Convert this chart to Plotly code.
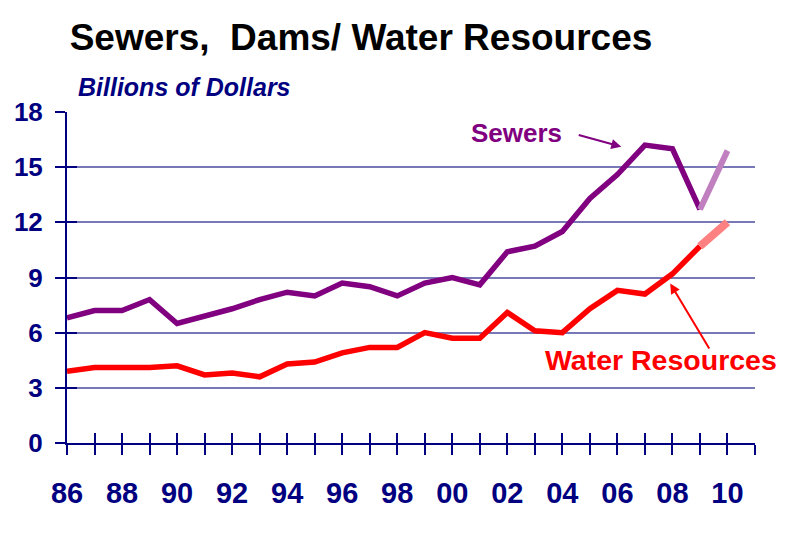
import plotly.graph_objects as go

# dados (bilhões de dólares)
years = list(range(1986, 2011))
sewers = [6.8, 7.2, 7.2, 7.8, 6.5, 6.9, 7.3, 7.8, 8.2, 8.0, 8.7, 8.5, 8.0,
          8.7, 9.0, 8.6, 10.4, 10.7, 11.5, 13.3, 14.6, 16.2, 16.0, 12.7, 15.9]
water = [3.9, 4.1, 4.1, 4.1, 4.2, 3.7, 3.8, 3.6, 4.3, 4.4, 4.9, 5.2, 5.2,
         6.0, 5.7, 5.7, 7.1, 6.1, 6.0, 7.3, 8.3, 8.1, 9.2, 10.7, 12.0]

tick_years = list(range(1986, 2012))
tick_text = [str(y)[2:] if (y % 2 == 0 and y <= 2010) else "" for y in tick_years]
y_ticks = [0, 3, 6, 9, 12, 15, 18]

NAVY = "#000080"
PURPLE = "#800080"
RED = "#FF0000"
FONT = "Liberation Sans, Arial, sans-serif"

# a página tem 8px de margem no body, então a figura é 16px menor
W, H = 780, 536

fig = go.Figure()

# Linha de esgotos (real + estimativa)
fig.add_trace(go.Scatter(x=years[:-1], y=sewers[:-1], mode="lines",
                         line=dict(color=PURPLE, width=5.5)))
fig.add_trace(go.Scatter(x=years[-2:], y=sewers[-2:], mode="lines",
                         line=dict(color="#C080C0", width=6)))

# Linha de recursos hídricos (real + estimativa)
fig.add_trace(go.Scatter(x=years[:-1], y=water[:-1], mode="lines",
                         line=dict(color=RED, width=5.5)))
fig.add_trace(go.Scatter(x=years[-2:], y=water[-2:], mode="lines",
                         line=dict(color="#FF8080", width=8)))

# traço vazio só para ativar os eixos sobrepostos (marcas "cruzadas")
fig.add_trace(go.Scatter(x=[None], y=[None], xaxis="x2", yaxis="y2",
                         hoverinfo="skip"))

fig.update_layout(
    width=W, height=H,
    margin=dict(l=59, r=33, t=104, b=101),
    paper_bgcolor="white", plot_bgcolor="white",
    showlegend=False,
    title=dict(text="Sewers,\u00a0 Dams/ Water Resources", xref="container",
               x=353 / W, xanchor="center", y=1 - 29.5 / H, yanchor="middle",
               font=dict(family=FONT, size=37, color="black", weight="bold")),
    xaxis=dict(range=[1986, 2011], tickvals=tick_years, ticktext=tick_text,
               ticks="outside", ticklen=10, tickwidth=2, tickcolor=NAVY,
               showline=True, linecolor=NAVY, linewidth=2, showgrid=False,
               zeroline=False, ticklabelstandoff=13, automargin=False,
               tickfont=dict(family=FONT, size=29, color=NAVY, weight="bold")),
    xaxis2=dict(range=[1986, 2011], overlaying="x", anchor="y2", side="bottom",
                tickvals=tick_years, ticks="inside", ticklen=10, tickwidth=2,
                tickcolor=NAVY, showticklabels=False, showline=False,
                showgrid=False, zeroline=False, automargin=False),
    yaxis=dict(range=[0, 18], tickvals=y_ticks, ticks="outside", ticklen=10,
               tickwidth=2, tickcolor=NAVY, showline=True, linecolor=NAVY,
               linewidth=2, showgrid=True, gridcolor="#7878B8", gridwidth=1.5,
               zeroline=False, ticklabelstandoff=7, automargin=False,
               tickfont=dict(family=FONT, size=26, color=NAVY, weight="bold")),
    yaxis2=dict(range=[0, 18], overlaying="y", anchor="x2", side="left",
                tickvals=y_ticks, ticks="inside", ticklen=10, tickwidth=2,
                tickcolor=NAVY, showticklabels=False, showline=False,
                showgrid=False, zeroline=False, automargin=False),
)

fig.add_annotation(text="<i>Billions of Dollars</i>", xref="paper", yref="paper",
                   x=0.013, xanchor="left", y=1.076, yanchor="middle",
                   showarrow=False,
                   font=dict(family=FONT, size=25, color=NAVY, weight="bold"))

# rótulos das séries
fig.add_annotation(text="Sewers", x=2002.35, y=16.85, showarrow=False,
                   font=dict(family=FONT, size=26, color=PURPLE, weight="bold"))
fig.add_annotation(text="", x=2006.14, y=16.11, ax=2004.54, ay=16.77,
                   axref="x", ayref="y", showarrow=True, arrowhead=2,
                   arrowsize=1, arrowwidth=2, arrowcolor=PURPLE, standoff=0)
fig.add_annotation(text="Water Resources", x=2007.6, y=4.49, showarrow=False,
                   font=dict(family=FONT, size=28.5, color=RED, weight="bold"))
fig.add_annotation(text="", x=2007.92, y=8.67, ax=2009.37, ay=5.06,
                   axref="x", ayref="y", showarrow=True, arrowhead=2,
                   arrowsize=1, arrowwidth=2, arrowcolor=RED, standoff=0)

fig.write_html("out.html")
